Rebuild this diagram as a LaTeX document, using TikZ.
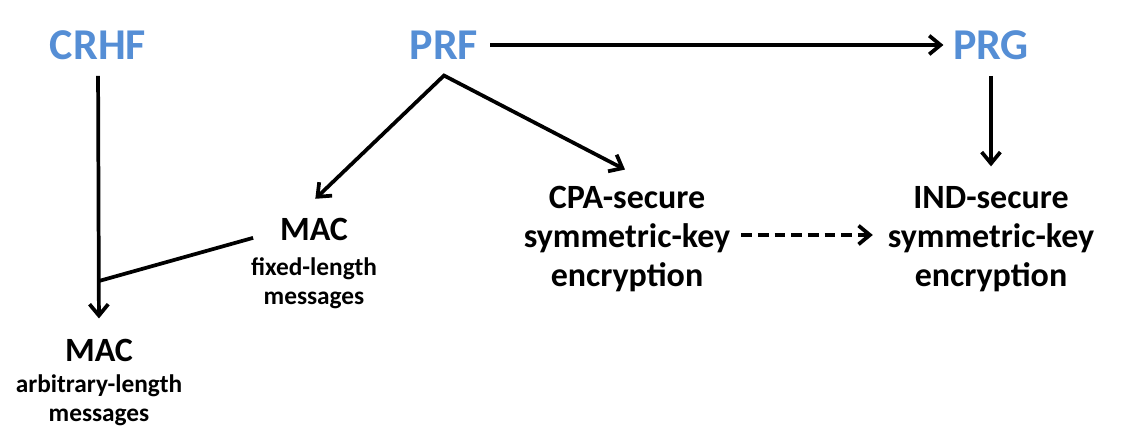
\documentclass[tikz,border=0pt]{standalone}
\usepackage{fontspec}
\setmainfont{Carlito}
\usetikzlibrary{arrows.meta}
\definecolor{primblue}{RGB}{85,142,213}

\begin{document}
\begin{tikzpicture}[x=0.75pt,y=0.75pt,
    prim/.style={font=\fontsize{33}{40}\selectfont\bfseries,text=primblue,inner sep=0pt},
    goal/.style={font=\fontsize{25.5}{29}\selectfont\bfseries,align=center,inner sep=0pt},
    note/.style={font=\fontsize{19}{21.5}\selectfont\bfseries,align=center,inner sep=0pt},
    bare/.style={line width=2.8pt},
    build/.style={line width=2.8pt,-{Straight Barb[length=8.5pt,width=14pt]}},
    weak/.style={build,dash pattern=on 8pt off 4.5pt}]
  \useasboundingbox (0,0) rectangle (1121,442);

  % --- the three primitives, in blue ---
  \node[prim] (crhf) at ( 98,397) {CRHF};
  \node[prim] (prf)  at (444,397) {PRF};
  \node[prim] (prg)  at (991,397) {PRG};

  % --- what is built from them ---
  \node[goal] (macf) at (314,213) {MAC};
  \node[note,anchor=north] (macfnote) at ([yshift=-13pt]macf.south) {fixed-length\\messages};
  \node[goal] (cpa)  at (627,203) {CPA-secure\\symmetric-key\\encryption};
  \node[goal] (ind)  at (991,203) {IND-secure\\symmetric-key\\encryption};
  \node[goal] (maca) at ( 99, 92) {MAC};
  \node[note,anchor=north] (macanote) at ([yshift=-10pt]maca.south) {arbitrary-length\\messages};

  % --- constructions ---
  \coordinate (fork) at ([yshift=-12pt]prf.south);
  \coordinate (join) at (99,161);
  \draw[build,shorten <=9pt,shorten >=7pt] (prf) -- (prg);
  \draw[build,{Straight Barb[length=8.5pt,width=14pt]}-{Straight Barb[length=8.5pt,width=14pt]}]
        ([xshift=1pt,yshift=14pt]macf.north) -- (fork) -- ([xshift=-1.5pt,yshift=12.5pt]cpa.north);
  \draw[build,shorten <=12pt,shorten >=15pt] (prg.south) -- (ind.north);
  \draw[build,shorten <=12pt,shorten >=15pt] (crhf.south) -- (maca.north);
  \draw[bare] ([xshift=-20pt,yshift=2pt]macf.south west) -- (join);
  \draw[weak,shorten <=8pt,shorten >=11pt] ([yshift=3pt]cpa.east) -- ([yshift=3pt]ind.west);
\end{tikzpicture}
\end{document}
